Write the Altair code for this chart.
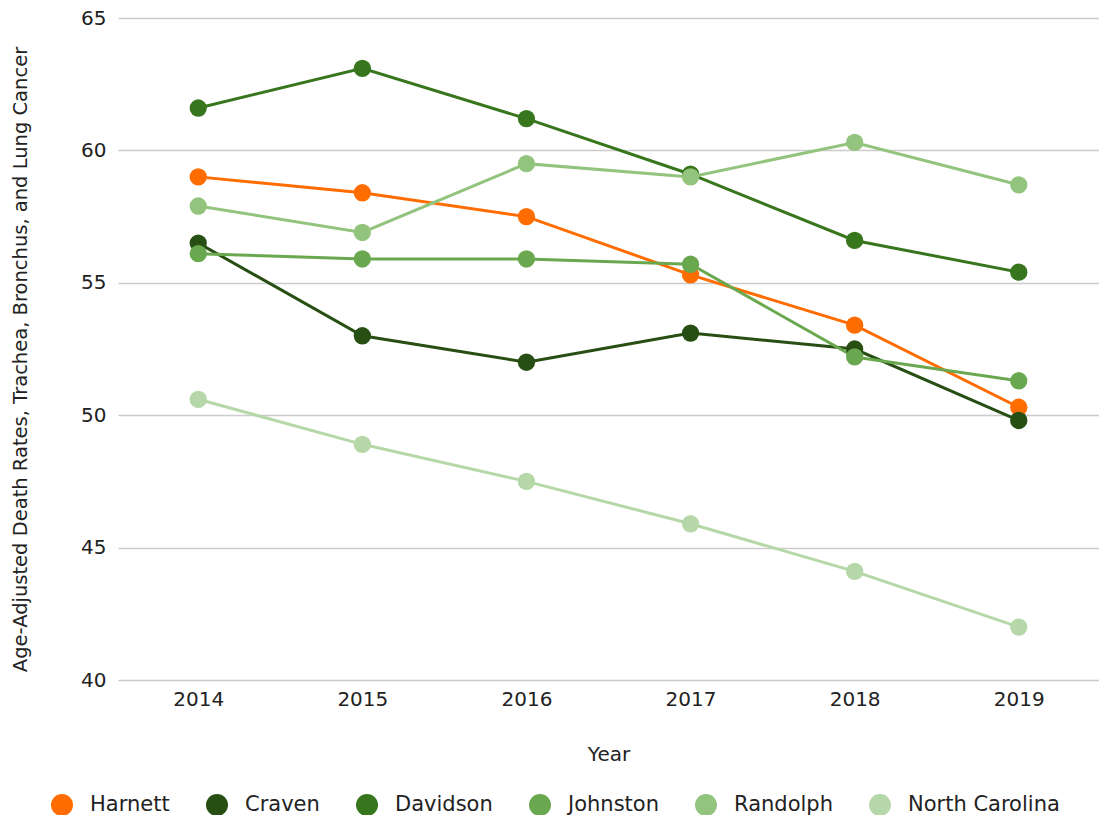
import altair as alt
import pandas as pd

years = ["2014", "2015", "2016", "2017", "2018", "2019"]
series = ["Harnett", "Craven", "Davidson", "Johnston", "Randolph", "North Carolina"]
colors = ["#ff6d01", "#274e13", "#38761d", "#6aa84f", "#93c47d", "#b6d7a8"]

harnett = [59.0, 58.4, 57.5, 55.3, 53.4, 50.3]
craven = [56.5, 53.0, 52.0, 53.1, 52.5, 49.8]
davidson = [61.6, 63.1, 61.2, 59.1, 56.6, 55.4]
johnston = [56.1, 55.9, 55.9, 55.7, 52.2, 51.3]
randolph = [57.9, 56.9, 59.5, 59.0, 60.3, 58.7]
north_carolina = [50.6, 48.9, 47.5, 45.9, 44.1, 42.0]

values = [harnett, craven, davidson, johnston, randolph, north_carolina]
y_ticks = [40, 45, 50, 55, 60, 65]

rows = []
for i, (name, vals) in enumerate(zip(series, values)):
    for yr, v in zip(years, vals):
        rows.append({"Year": yr, "County": name, "Series": name, "Rate": v, "idx": i})
df = pd.DataFrame(rows)

FONT = "DejaVu Sans"
TXT = "#222222"

x_enc = alt.X(
    "Year:O",
    scale=alt.Scale(type="point", padding=0.489),
    axis=alt.Axis(
        title="Year", labelAngle=0, domain=False, ticks=False, grid=False,
        labelFont=FONT, labelFontSize=20, labelColor=TXT, labelPadding=9,
        titleFont=FONT, titleFontSize=20, titleColor=TXT, titleFontWeight="normal",
        titlePadding=35,
    ),
)
y_enc = alt.Y(
    "Rate:Q",
    scale=alt.Scale(domain=[40, 65], nice=False, zero=False),
    axis=alt.Axis(
        title="Age-Adjusted Death Rates, Trachea, Bronchus, and Lung Cancer",
        values=y_ticks, domain=False, ticks=False, grid=True,
        gridColor="#cccccc", gridWidth=1.5,
        labelFont=FONT, labelFontSize=20, labelColor=TXT, labelPadding=12,
        titleFont=FONT, titleFontSize=19.5, titleColor=TXT, titleFontWeight="normal",
        titlePadding=50, titleY=341,
    ),
)

lines = alt.Chart(df).mark_line(strokeWidth=3).encode(
    x=x_enc, y=y_enc,
    stroke=alt.Stroke("Series:N", scale=alt.Scale(range=colors), sort=series, legend=None),
    detail="Series:N",
)

points = alt.Chart(df).mark_circle(size=300, opacity=1).encode(
    x=x_enc, y=y_enc,
    fill=alt.Fill(
        "County:N", scale=alt.Scale(domain=series, range=colors), sort=series,
        legend=alt.Legend(
            title=None, orient="none", legendX=-67, legendY=776,
            direction="horizontal", columns=6,
            symbolType="circle", symbolSize=484, symbolStrokeWidth=0, symbolOpacity=1,
            labelFont=FONT, labelFontSize=21, labelColor=TXT, labelOffset=17,
            columnPadding=36, labelLimit=400,
        ),
    ),
    order=alt.Order("idx:Q"),
)

chart = alt.layer(lines, points).properties(
    width=981, height=662,
    padding={"left": 110, "top": 10, "right": 0, "bottom": 135},
    autosize=alt.AutoSizeParams(type="none"),
).configure_view(stroke=None)

chart.save("out.html", embed_options={"renderer": "svg", "actions": False})
